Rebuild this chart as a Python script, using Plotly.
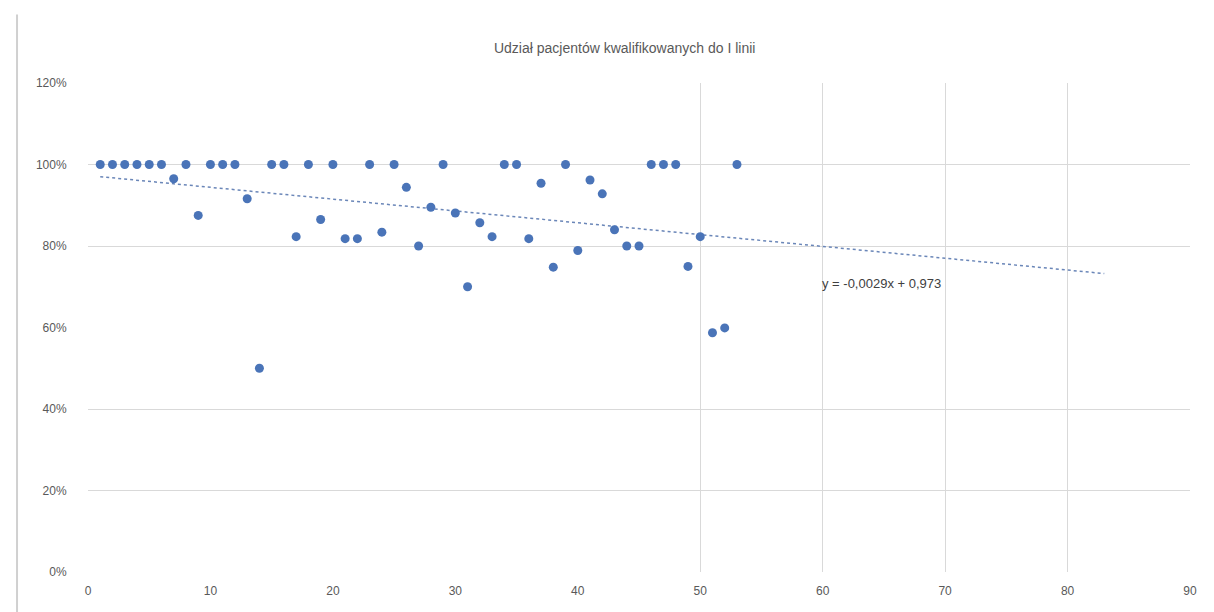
import plotly.graph_objects as go

# Data
patient_idx = list(range(1, 54))
share_pct = [100, 100, 100, 100, 100, 100, 96.5, 100, 87.5, 100,
             100, 100, 91.6, 50, 100, 100, 82.3, 100, 86.5, 100,
             81.8, 81.8, 100, 83.4, 100, 94.4, 80, 89.5, 100, 88.1,
             70, 85.7, 82.3, 100, 100, 81.8, 95.4, 74.8, 100, 78.9,
             96.2, 92.8, 84, 80, 80, 100, 100, 100, 75, 82.3,
             58.7, 59.9, 100]
share = [v / 100 for v in share_pct]

# Linear trendline (as shown in the chart), extended forward
trend_slope = -0.0029
trend_intercept = 0.973
trend_x = [1, 83]
trend_y = [trend_intercept + trend_slope * x for x in trend_x]
trend_label = "y = -0,0029x + 0,973"

title_text = "Udział pacjentów kwalifikowanych do I linii"
x_ticks = [0, 10, 20, 30, 40, 50, 60, 70, 80, 90]
y_ticks = [0, 0.2, 0.4, 0.6, 0.8, 1.0, 1.2]
x_grid = [50, 60, 70, 80, 90]
y_grid = [0.2, 0.4, 0.8, 1.0]

grid_col = "#d9d9d9"
text_col = "#595959"
font_family = "Liberation Sans, Arial, sans-serif"

fig = go.Figure()

fig.add_trace(go.Scatter(
    x=trend_x, y=trend_y, mode="lines",
    line=dict(color="#6a86b8", width=1.5, dash="dot"),
    xaxis="x2", yaxis="y2", showlegend=False, hoverinfo="skip"))

fig.add_trace(go.Scatter(
    x=patient_idx, y=share, mode="markers",
    marker=dict(color="#4a74b8", size=9, line=dict(width=0)),
    xaxis="x2", yaxis="y2", showlegend=False))

# invisible trace on main axes so the grid subplot exists
fig.add_trace(go.Scatter(x=[None], y=[None], showlegend=False, hoverinfo="skip"))

fig.update_layout(
    width=1214, height=612,
    margin=dict(l=80, r=32, t=75, b=48),
    paper_bgcolor="white", plot_bgcolor="white",
    font=dict(family=font_family, color=text_col, size=12),
    title=dict(text=title_text, x=0.508, xanchor="center", y=0.935, yanchor="middle",
               font=dict(size=14, color=text_col, family=font_family)),
    xaxis=dict(range=[0, 90], tickvals=x_grid, showticklabels=False,
               showgrid=True, gridcolor=grid_col, gridwidth=1,
               zeroline=False, showline=False, ticks=""),
    yaxis=dict(range=[0, 1.2], tickvals=y_grid, showticklabels=False,
               showgrid=True, gridcolor=grid_col, gridwidth=1,
               zeroline=False, showline=False, ticks=""),
    xaxis2=dict(range=[0, 90], tickvals=x_ticks, overlaying="x", side="bottom",
                anchor="y2", showgrid=False, zeroline=False, showline=False,
                ticks="outside", ticklen=8, tickcolor="rgba(0,0,0,0)",
                tickfont=dict(size=12, color=text_col)),
    yaxis2=dict(range=[0, 1.2], tickvals=y_ticks, tickformat=".0%", overlaying="y",
                side="left", anchor="x2", showgrid=False, zeroline=False, showline=False,
                ticks="outside", ticklen=18, tickcolor="rgba(0,0,0,0)",
                tickfont=dict(size=12, color=text_col)),
    shapes=[dict(type="line", xref="paper", yref="paper",
                 x0=-0.0644, x1=-0.0644, y0=-0.09, y1=1.14,
                 line=dict(color="#d0d0d0", width=2))],
    annotations=[dict(text=trend_label, x=64.8, y=0.709, xref="x2", yref="y2",
                      showarrow=False, font=dict(size=13, color="#404040"))],
)

fig.write_html("out.html")
